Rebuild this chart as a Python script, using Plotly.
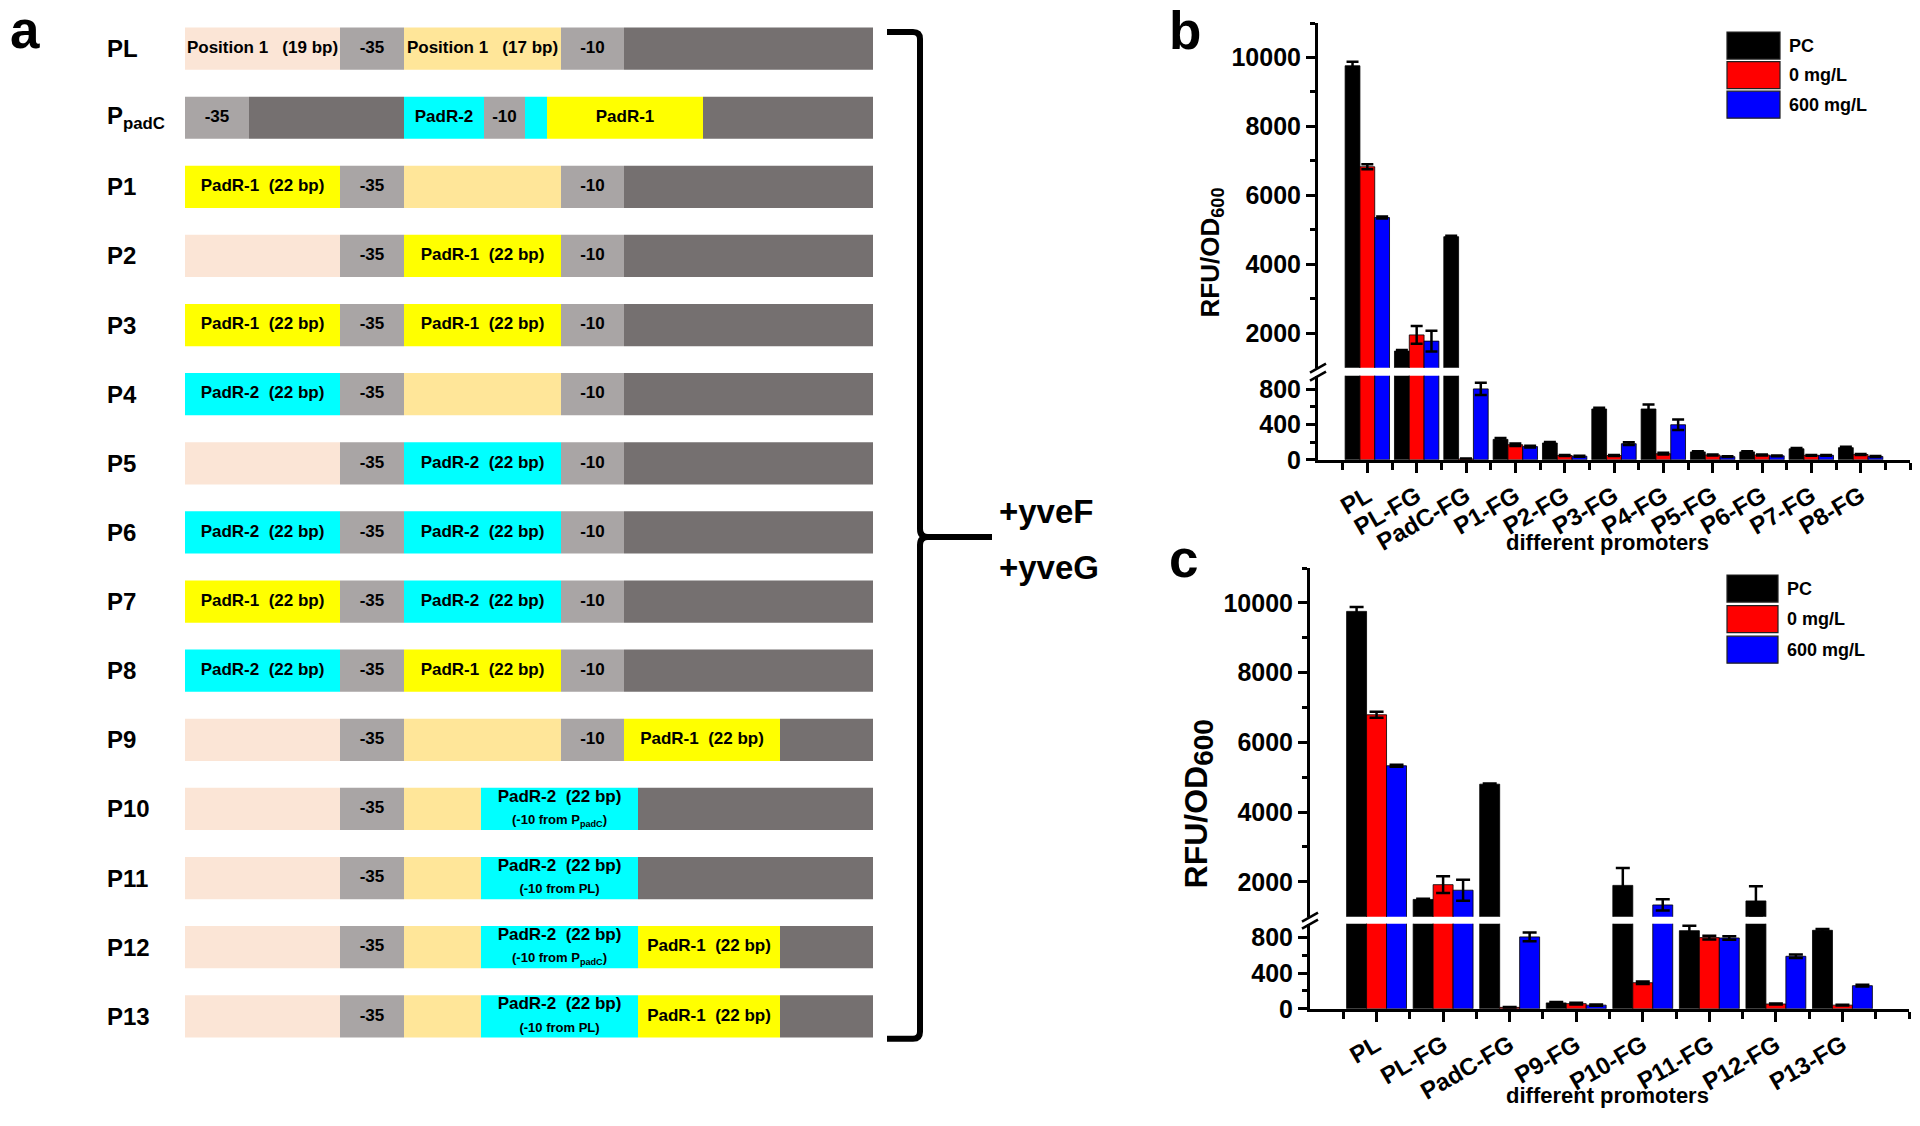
import plotly.graph_objects as go

W, H = 1920, 1126          # design space (reference pixels)
H_LAYOUT = 1142            # layout height (compensates the vertical squeeze seen in capture)
FONT = "Liberation Sans, Arial, sans-serif"

# ---------------- Panel a : promoter constructs ----------------
row_labels = ["PL", "P<sub>padC</sub>", "P1", "P2", "P3", "P4", "P5", "P6", "P7",
              "P8", "P9", "P10", "P11", "P12", "P13"]
L1 = "PadR-1  (22 bp)"
L2 = "PadR-2  (22 bp)"
L2_padc = "PadR-2  (22 bp)<br><span style='font-size:13px'>(-10 from P<sub>padC</sub>)</span>"
L2_pl = "PadR-2  (22 bp)<br><span style='font-size:13px'>(-10 from PL)</span>"

# (start, end, element type, label) per construct, in relative length units
row_segments = [
    [(0, 155, "up", "Position 1   (19 bp)"), (155, 219, "box", "-35"), (219, 376, "mid", "Position 1   (17 bp)"), (376, 439, "box", "-10"), (439, 688, "core", "")],
    [(0, 64, "box", "-35"), (64, 219, "core", ""), (219, 299, "padr2", "PadR-2"), (299, 340, "box", "-10"), (340, 362, "padr2", ""), (362, 518, "padr1", "PadR-1"), (518, 688, "core", "")],
    [(0, 155, "padr1", L1), (155, 219, "box", "-35"), (219, 376, "mid", ""), (376, 439, "box", "-10"), (439, 688, "core", "")],
    [(0, 155, "up", ""), (155, 219, "box", "-35"), (219, 376, "padr1", L1), (376, 439, "box", "-10"), (439, 688, "core", "")],
    [(0, 155, "padr1", L1), (155, 219, "box", "-35"), (219, 376, "padr1", L1), (376, 439, "box", "-10"), (439, 688, "core", "")],
    [(0, 155, "padr2", L2), (155, 219, "box", "-35"), (219, 376, "mid", ""), (376, 439, "box", "-10"), (439, 688, "core", "")],
    [(0, 155, "up", ""), (155, 219, "box", "-35"), (219, 376, "padr2", L2), (376, 439, "box", "-10"), (439, 688, "core", "")],
    [(0, 155, "padr2", L2), (155, 219, "box", "-35"), (219, 376, "padr2", L2), (376, 439, "box", "-10"), (439, 688, "core", "")],
    [(0, 155, "padr1", L1), (155, 219, "box", "-35"), (219, 376, "padr2", L2), (376, 439, "box", "-10"), (439, 688, "core", "")],
    [(0, 155, "padr2", L2), (155, 219, "box", "-35"), (219, 376, "padr1", L1), (376, 439, "box", "-10"), (439, 688, "core", "")],
    [(0, 155, "up", ""), (155, 219, "box", "-35"), (219, 376, "mid", ""), (376, 439, "box", "-10"), (439, 595, "padr1", L1), (595, 688, "core", "")],
    [(0, 155, "up", ""), (155, 219, "box", "-35"), (219, 296, "mid", ""), (296, 453, "padr2", L2_padc), (453, 688, "core", "")],
    [(0, 155, "up", ""), (155, 219, "box", "-35"), (219, 296, "mid", ""), (296, 453, "padr2", L2_pl), (453, 688, "core", "")],
    [(0, 155, "up", ""), (155, 219, "box", "-35"), (219, 296, "mid", ""), (296, 453, "padr2", L2_padc), (453, 595, "padr1", L1), (595, 688, "core", "")],
    [(0, 155, "up", ""), (155, 219, "box", "-35"), (219, 296, "mid", ""), (296, 453, "padr2", L2_pl), (453, 595, "padr1", L1), (595, 688, "core", "")],
]
seg_colors = {"up": "#FBE5D6", "mid": "#FFE699", "box": "#A9A5A5", "core": "#757070",
              "padr1": "#FFFF00", "padr2": "#00FFFF"}

# ---------------- Panel b ----------------
cats_b = ["PL", "PL-FG", "PadC-FG", "P1-FG", "P2-FG", "P3-FG", "P4-FG", "P5-FG", "P6-FG", "P7-FG", "P8-FG"]
pc_b = [9760, 1480, 4800, 232, 191, 577, 577, 90, 90, 125, 138]
pc_b_err = [115, 30, 30, 15, 10, 15, 50, 8, 8, 10, 10]
zero_b = [6830, 1950, 10, 171, 49, 49, 69, 55, 55, 51, 60]
zero_b_err = [70, 260, 5, 15, 5, 5, 10, 5, 5, 5, 5]
six_b = [5356, 1770, 805, 150, 41, 183, 398, 36, 45, 51, 38]
six_b_err = [30, 300, 70, 10, 5, 15, 60, 5, 5, 5, 5]

# ---------------- Panel c ----------------
cats_c = ["PL", "PL-FG", "PadC-FG", "P9-FG", "P10-FG", "P11-FG", "P12-FG", "P13-FG"]
pc_c = [9756, 1493, 4799, 66, 1896, 878, 1451, 882]
pc_c_err = [125, 20, 20, 10, 500, 55, 420, 15]
zero_c = [6790, 1917, 16, 58, 293, 800, 54, 41]
zero_c_err = [85, 240, 5, 10, 15, 20, 5, 5]
six_c = [5328, 1758, 808, 41, 1335, 796, 590, 260]
six_c_err = [30, 300, 50, 8, 160, 20, 20, 10]

series_names = ["PC", "0 mg/L", "600 mg/L"]
series_colors = ["#000000", "#FF0000", "#0000FF"]

upper_ticks = [2000, 4000, 6000, 8000, 10000]
lower_ticks = [0, 400, 800]


def px(x):
    return x / W


def py(y):
    return 1 - y / H


fig = go.Figure()

# ---- panel a bars ----
for kind, col in seg_colors.items():
    ys, bases, lens = [], [], []
    for i, segs in enumerate(row_segments):
        for s, e, k, _ in segs:
            if k == kind:
                ys.append(i)
                bases.append(s)
                lens.append(e - s)
    fig.add_trace(go.Bar(orientation="h", y=ys, x=lens, base=bases, width=0.61,
                         marker=dict(color=col, line=dict(width=0)),
                         xaxis="x3", yaxis="y5", showlegend=False, hoverinfo="skip"))
tx, ty, tt = [], [], []
for i, segs in enumerate(row_segments):
    for s, e, k, lab in segs:
        if lab:
            tx.append((s + e) / 2)
            ty.append(i)
            tt.append(lab)
fig.add_trace(go.Scatter(x=tx, y=ty, text=tt, mode="text", xaxis="x3", yaxis="y5",
                         textfont=dict(family=FONT, size=17, color="black", weight="bold"),
                         showlegend=False, hoverinfo="skip", cliponaxis=False))


# ---- bar charts ----
def add_chart(cats, vals, errs, xa, ylow, yup, capw):
    offs = [-0.45, -0.15, 0.15]
    xs = list(range(len(cats)))
    for v, e, name, col, off in zip(vals, errs, series_names, series_colors, offs):
        for ya in (ylow, yup):
            fig.add_trace(go.Bar(x=xs, y=v, width=0.3, offset=off, name=name,
                                 marker=dict(color=col, line=dict(color="black", width=0.8)),
                                 error_y=dict(type="data", array=e, visible=True, color="black",
                                              thickness=2.5, width=capw),
                                 xaxis=xa, yaxis=ya, showlegend=False))


add_chart(cats_b, [pc_b, zero_b, six_b], [pc_b_err, zero_b_err, six_b_err], "x", "y", "y2", 6)
add_chart(cats_c, [pc_c, zero_c, six_c], [pc_c_err, zero_c_err, six_c_err], "x2", "y3", "y4", 7)

ytickfont = dict(family=FONT, size=25, color="black", weight="bold")
xtickfont = dict(family=FONT, size=24, color="black", weight="bold")


def xaxis_cfg(cats, x0, x1, anchor):
    n = len(cats)
    return dict(domain=[px(x0), px(x1)], range=[-1, n], anchor=anchor,
                tickmode="array", tickvals=list(range(n)),
                ticktext=cats, tickangle=-30, tickfont=xtickfont,
                ticks="outside", ticklen=10, tickwidth=2.5, tickcolor="black",
                minor=dict(tickmode="array", tickvals=[i + 0.5 for i in range(-1, n)] + [n],
                           ticks="outside", ticklen=7, tickwidth=2.5, tickcolor="black"),
                showline=True, linewidth=3, linecolor="black", showgrid=False,
                zeroline=False, fixedrange=True)


def ylow_cfg(y0, y1, top, anchor):
    return dict(domain=[py(y1), py(y0)], range=[0, top], anchor=anchor,
                tickmode="array", tickvals=lower_ticks, ticktext=[str(t) for t in lower_ticks],
                tickfont=ytickfont,
                ticks="outside", ticklen=9, tickwidth=2.5, tickcolor="black",
                minor=dict(tickmode="array", tickvals=[200, 600], ticks="outside",
                           ticklen=5, tickwidth=2.5, tickcolor="black"),
                showline=True, linewidth=3, linecolor="black", showgrid=False,
                zeroline=False, fixedrange=True)


def yup_cfg(y0, y1, anchor):
    return dict(domain=[py(y1), py(y0)], range=[1000, 11000], anchor=anchor,
                tickmode="array", tickvals=upper_ticks, ticktext=[str(t) for t in upper_ticks],
                tickfont=ytickfont,
                ticks="outside", ticklen=9, tickwidth=2.5, tickcolor="black",
                minor=dict(tickmode="array", tickvals=[3000, 5000, 7000, 9000, 11000],
                           ticks="outside", ticklen=5, tickwidth=2.5, tickcolor="black"),
                showline=True, linewidth=3, linecolor="black", showgrid=False,
                zeroline=False, fixedrange=True)


fig.update_layout(
    width=W, height=H_LAYOUT, autosize=False, margin=dict(l=0, r=0, t=0, b=0),
    paper_bgcolor="white", plot_bgcolor="rgba(0,0,0,0)", barmode="overlay",
    showlegend=False, font=dict(family=FONT, color="black"),
    xaxis=xaxis_cfg(cats_b, 1318, 1910, "y"),
    yaxis=ylow_cfg(375, 459, 955, "x"),
    yaxis2=yup_cfg(23, 367, "x"),
    xaxis2=xaxis_cfg(cats_c, 1310, 1909, "y3"),
    yaxis3=ylow_cfg(922, 1007, 957, "x2"),
    yaxis4=yup_cfg(567, 915, "x2"),
    xaxis3=dict(domain=[0, 1], range=[-185, W - 185], visible=False, fixedrange=True),
    yaxis5=dict(domain=[0, 1], range=[(H - 48.5) / 69.0, -48.5 / 69.0], visible=False,
                fixedrange=True, anchor="x3"),
)

ann = []
# row labels
for i, lab in enumerate(row_labels):
    ann.append(dict(x=px(105), xref="paper", y=i, yref="y5", text=lab, showarrow=False,
                    xanchor="left", yanchor="middle",
                    font=dict(family=FONT, size=24, color="black", weight="bold")))
# panel letters (centre = baseline - 0.3465 em)
for letter, xx, base in [("a", 8, 48), ("b", 1167, 49), ("c", 1167, 576)]:
    ann.append(dict(x=px(xx), y=py(base - 0.3465 * 53), xref="paper", yref="paper", text=letter,
                    showarrow=False, xanchor="left", yanchor="middle",
                    font=dict(family=FONT, size=53, color="black", weight="bold")))
# +yveF / +yveG
for txt, yy in [("+yveF", 511), ("+yveG", 566)]:
    ann.append(dict(x=px(997), y=py(yy), xref="paper", yref="paper", text=txt, showarrow=False,
                    xanchor="left", yanchor="middle",
                    font=dict(family=FONT, size=33, color="black", weight="bold")))
# axis titles
ann.append(dict(x=px(1211), y=py(252), xref="paper", yref="paper", text="RFU/OD<sub>600</sub>",
                textangle=-90, showarrow=False, xanchor="center", yanchor="middle",
                font=dict(family=FONT, size=26, color="black", weight="bold")))
ann.append(dict(x=px(1199), y=py(803), xref="paper", yref="paper",
                text="RFU/OD<sub><span style='font-size:28px'>600</span></sub>",
                textangle=-90, showarrow=False, xanchor="center", yanchor="middle",
                font=dict(family=FONT, size=32, color="black", weight="bold")))
for yy in (542, 1094):
    ann.append(dict(x=px(1607), y=py(yy), xref="paper", yref="paper", text="different promoters",
                    showarrow=False, xanchor="center", yanchor="middle",
                    font=dict(family=FONT, size=22, color="black", weight="bold")))

shapes = []
# custom legends
for (top0, x0, x1, step, hgt) in [(32, 1727, 1780, 29.5, 27), (574, 1727, 1778, 30.5, 27)]:
    for k, (name, col) in enumerate(zip(series_names, series_colors)):
        t = top0 + k * step
        shapes.append(dict(type="rect", xref="paper", yref="paper", x0=px(x0), x1=px(x1),
                           y0=py(t + hgt), y1=py(t), fillcolor=col,
                           line=dict(color="#202020", width=1.2)))
        ann.append(dict(x=px(x1 + 7), y=py(t + hgt / 2), xref="paper", yref="paper", text=name,
                        showarrow=False, xanchor="left", yanchor="middle",
                        font=dict(family=FONT, size=18, color="black", weight="bold")))

# axis break marks
for ax, yt, yb in [(1318, 367, 375), (1310, 915, 922)]:
    for yy in (yt, yb):
        shapes.append(dict(type="line", xref="paper", yref="paper", x0=px(ax - 8), y0=py(yy + 5),
                           x1=px(ax + 8), y1=py(yy - 4), line=dict(color="black", width=2.5)))


# bracket
def P(x, y):
    return f"{px(x):.5f},{py(y):.5f}"


path = (f"M {P(887, 32)} L {P(913, 32)} Q {P(920, 32)} {P(920, 39)} L {P(920, 528)} "
        f"Q {P(920, 536)} {P(928, 536)} L {P(992, 536)} M {P(928, 536)} Q {P(920, 536)} {P(920, 544)} "
        f"L {P(920, 1030)} Q {P(920, 1037)} {P(913, 1037)} L {P(887, 1037)}")
shapes.append(dict(type="path", xref="paper", yref="paper", path=path,
                   line=dict(color="black", width=6)))

fig.update_layout(annotations=ann, shapes=shapes)

post = ("document.documentElement.style.margin='0';document.documentElement.style.overflow='hidden';"
        "document.body.style.margin='0';document.body.style.overflow='hidden';"
        "var d=document.querySelector('.plotly-graph-div');"
        "d.style.position='fixed';d.style.top='0px';d.style.left='0px';")
fig.write_html("out.html", config={"displayModeBar": False}, post_script=post)
